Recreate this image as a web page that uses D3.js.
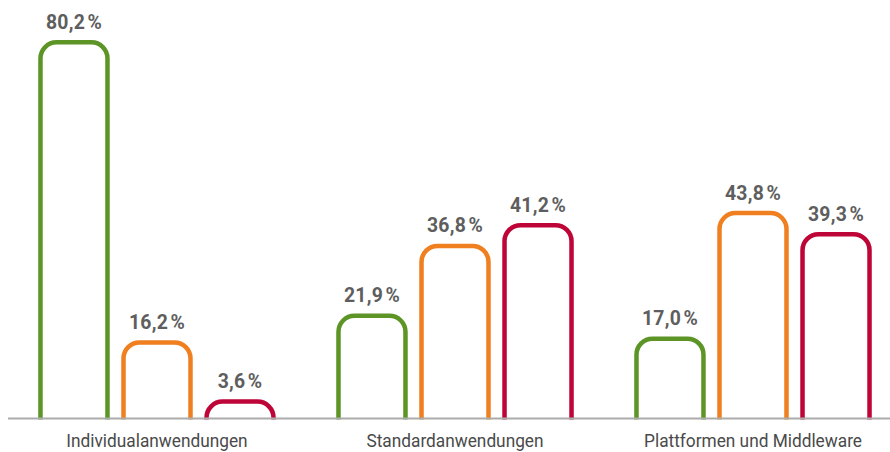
<!DOCTYPE html>
<html>
<head>
<meta charset="utf-8">
<script src="https://cdn.jsdelivr.net/npm/d3@7"></script>
<style>
  html, body { margin: 0; padding: 0; background: #fff; }
  svg { display: block; }
</style>
</head>
<body>
<svg id="chart" width="890" height="452"></svg>
<script>
const categories = ["Individualanwendungen", "Standardanwendungen", "Plattformen und Middleware"];
const seriesNames = ["A", "B", "C"];
const seriesColors = ["#5c9426", "#f07f1f", "#be0538"];
const valuesA = [80.2, 21.9, 17.0];
const valuesB = [16.2, 36.8, 43.8];
const valuesC = [3.6, 41.2, 39.3];
const seriesValues = [valuesA, valuesB, valuesC];

const W = 890, H = 452;
const baseY = 418.5;
const svg = d3.select("#chart");

const x0 = d3.scaleBand().domain(categories).range([8, 902]).paddingInner(0.218).paddingOuter(0.109);
const x1 = d3.scaleBand().domain(seriesNames).range([0, x0.bandwidth()]).paddingInner(0.193).paddingOuter(0);
const y = d3.scaleLinear().domain([0, 85]).range([baseY, baseY - 85 * 4.69]);

const fmt = v => d3.format(".1f")(v).replace(".", ",") + "\u200A%";

const data = [];
categories.forEach((c, i) => {
  seriesNames.forEach((s, j) => {
    data.push({ cat: c, ser: s, color: seriesColors[j], value: seriesValues[j][i] });
  });
});

function barPath(d) {
  const x = x0(d.cat) + x1(d.ser);
  const w = x1.bandwidth();
  const top = y(d.value);
  const h = baseY - top;
  const r = Math.min(16, h, w / 2);
  return `M${x},${baseY + 1} L${x},${top + r} A${r},${r} 0 0 1 ${x + r},${top} L${x + w - r},${top} A${r},${r} 0 0 1 ${x + w},${top + r} L${x + w},${baseY + 1}`;
}

svg.append("g").selectAll("path").data(data).join("path")
  .attr("d", barPath)
  .attr("fill", "none")
  .attr("stroke", d => d.color)
  .attr("stroke-width", 4.5);

svg.append("line")
  .attr("x1", 8).attr("x2", W)
  .attr("y1", baseY).attr("y2", baseY)
  .attr("stroke", "#ababab").attr("stroke-width", 2);

const labelFont = "Roboto, 'DejaVu Sans Condensed', sans-serif";

svg.append("g").selectAll("text").data(data).join("text")
  .attr("transform", d => `translate(${x0(d.cat) + x1(d.ser) + x1.bandwidth() / 2},${y(d.value) - 13.5}) scale(0.97,1.03)`)
  .attr("text-anchor", "middle")
  .attr("font-family", labelFont)
  .attr("font-weight", "bold")
  .attr("font-size", 20)
  .attr("letter-spacing", 0.3)
  .attr("fill", "#5e5e5e")
  .text(d => fmt(d.value));

svg.append("g").selectAll("text").data(categories).join("text")
  .attr("transform", d => `translate(${x0(d) + x0.bandwidth() / 2},446.5) scale(0.96,1)`)
  .attr("text-anchor", "middle")
  .attr("font-family", labelFont)
  .attr("font-size", 18)
  .attr("fill", "#4a4a4a")
  .text(d => d);
</script>
</body>
</html>
